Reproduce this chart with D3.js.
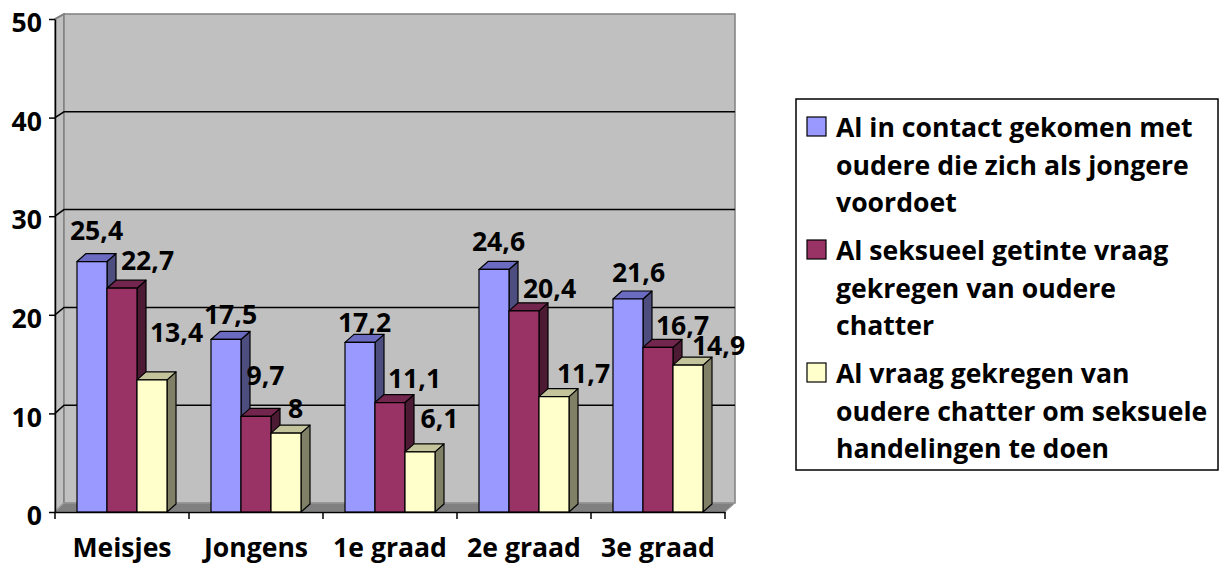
<!DOCTYPE html>
<html>
<head>
<meta charset="utf-8">
<script src="https://cdn.jsdelivr.net/npm/d3@7"></script>
<style>
  body { margin: 0; background: #fff; }
  svg { display: block; }
  text { font-family: "Open Sans", Lato, sans-serif; font-weight: 700; fill: #000; }
</style>
</head>
<body>
<div id="chart"></div>
<script>
// data
const categories = ['Meisjes', 'Jongens', '1e graad', '2e graad', '3e graad'];
const contactOudere = [25.4, 17.5, 17.2, 24.6, 21.6];
const seksueleVraag = [22.7, 9.7, 11.1, 20.4, 16.7];
const handelingenVraag = [13.4, 8, 6.1, 11.7, 14.9];
const yTicks = [0, 10, 20, 30, 40, 50];
const seriesLabels = [
    ['Al in contact gekomen met', 'oudere die zich als jongere', 'voordoet'],
    ['Al seksueel getinte vraag', 'gekregen van oudere', 'chatter'],
    ['Al vraag gekregen van', 'oudere chatter om seksuele', 'handelingen te doen'],
];
const series = [contactOudere, seksueleVraag, handelingenVraag];

// look
const colors = [
    { front: '#9999ff', top: '#6b6bc2', side: '#4d4d80' },
    { front: '#993366', top: '#73264d', side: '#4d1a33' },
    { front: '#ffffcc', top: '#c4c49c', side: '#808066' },
];
// hand nudges for the value labels, like the source chart has them
const labelNudge = [
    [[0, -22], [0, -15], [0, -10], [0, -18], [6, -17]],
    [[21, -18], [5, -31], [20, -15], [21, -13], [20, -12]],
    [[20, -38], [5, -15], [15, -24], [25, -14], [26, -10]],
];

const W = 1228, H = 567;
const wallDx = 9;          // depth of the walls
const barDx = 9, barDy = 8; // depth of the bars

const svg = d3.select('#chart').append('svg')
    .attr('width', W).attr('height', H);

// pick the font size so the first legend line is as wide as in the source
const probe = svg.append('text').attr('font-size', 100).text(seriesLabels[0][0]);
const fontSize = Math.round(100 * 357 / probe.node().getComputedTextLength() * 10) / 10;
probe.remove();

const x = d3.scaleBand().domain(categories).range([55, 725]);
const xs = d3.scaleBand().domain(d3.range(series.length)).range([22, 112]);
const yFront = d3.scaleLinear().domain([0, 50]).range([512, 19]);
const yBack = d3.scaleLinear().domain([0, 50]).range([503, 14]);

const x0 = x.range()[0], x1 = x.range()[1];

// walls
svg.append('path')
    .attr('d', `M${x0},${yFront(50)}L${x0 + wallDx},${yBack(50)}L${x0 + wallDx},${yBack(0)}L${x0},${yFront(0)}Z`)
    .attr('fill', '#c0c0c0').attr('stroke', '#808080').attr('stroke-width', 1.5);
svg.append('rect')
    .attr('x', x0 + wallDx).attr('y', yBack(50))
    .attr('width', x1 + 1 - x0).attr('height', yBack(0) - yBack(50))
    .attr('fill', '#c0c0c0').attr('stroke', '#808080').attr('stroke-width', 1.5);
svg.append('path')
    .attr('d', `M${x0},${yFront(0)}L${x0 + wallDx},${yBack(0)}L${x1 + wallDx + 1},${yBack(0)}L${x1},${yFront(0)}Z`)
    .attr('fill', '#808080').attr('stroke', '#a0a0a0').attr('stroke-width', 1);

// gridlines on the walls
const grid = svg.append('g').attr('stroke', '#000').attr('stroke-width', 1.5).attr('fill', 'none');
grid.selectAll('path').data(yTicks.filter(t => t > 0 && t < 50)).join('path')
    .attr('d', t => `M${x0},${yFront(t)}L${x0 + wallDx},${yBack(t)}H${x1 + wallDx + 1}`);
svg.append('path')
    .attr('d', `M${x0},${yFront(50)}L${x0 + wallDx},${yBack(50)}`)
    .attr('stroke', '#808080').attr('stroke-width', 1.5);

// bars
const bars = svg.append('g').attr('stroke', '#000').attr('stroke-width', 1.2).attr('stroke-linejoin', 'round');
categories.forEach((c, ci) => {
    series.forEach((vals, si) => {
        const bx = x(c) + xs(si), bw = xs.bandwidth();
        const yt = yFront(vals[ci]), yb = yFront(0);
        const col = colors[si];
        const g = bars.append('g');
        g.append('path')
            .attr('d', `M${bx + bw},${yt}L${bx + bw + barDx},${yt - barDy}L${bx + bw + barDx},${yb - barDy}L${bx + bw},${yb}Z`)
            .attr('fill', col.side);
        g.append('path')
            .attr('d', `M${bx},${yt}L${bx + barDx},${yt - barDy}L${bx + bw + barDx},${yt - barDy}L${bx + bw},${yt}Z`)
            .attr('fill', col.top);
        g.append('rect')
            .attr('x', bx).attr('y', yt).attr('width', bw).attr('height', yb - yt)
            .attr('fill', col.front);
    });
});

// y axis
const yAxis = d3.axisLeft(yFront).tickValues(yTicks).tickSize(6).tickSizeOuter(0).tickPadding(7);
const yG = svg.append('g').attr('transform', `translate(${x0},0)`).call(yAxis);
yG.select('.domain').attr('stroke', '#000').attr('stroke-width', 1.5);
yG.selectAll('.tick line').attr('stroke', '#000').attr('stroke-width', 1.5);
yG.selectAll('.tick text')
    .attr('font-family', null).attr('font-size', fontSize).attr('dy', '0.48em');

// x axis: labels under the band centres, ticks on the band edges
const xAxis = d3.axisBottom(x).tickSize(0).tickPadding(26).tickSizeOuter(0);
const xG = svg.append('g').attr('transform', `translate(0,${yFront(0)})`).call(xAxis);
xG.select('.domain').attr('stroke', '#000').attr('stroke-width', 1.5);
xG.selectAll('.tick text').attr('font-family', null).attr('font-size', fontSize);
svg.append('g').selectAll('line')
    .data(categories.map(c => x(c)).concat([x1]))
    .join('line')
    .attr('x1', d => d).attr('x2', d => d)
    .attr('y1', yFront(0)).attr('y2', yFront(0) + 7)
    .attr('stroke', '#000').attr('stroke-width', 1.5);

// value labels
const labels = svg.append('g').attr('font-size', fontSize).attr('text-anchor', 'middle');
series.forEach((vals, si) => {
    labels.selectAll(null).data(vals).join('text')
        .attr('x', (v, ci) => x(categories[ci]) + xs(si) + xs.bandwidth() / 2 + barDx / 2 + labelNudge[si][ci][0])
        .attr('y', (v, ci) => yFront(v) + labelNudge[si][ci][1])
        .text(v => String(v).replace('.', ','));
});

// legend
const legend = svg.append('g').attr('transform', 'translate(796,99)');
legend.append('rect')
    .attr('width', 422).attr('height', 371)
    .attr('fill', '#fff').attr('stroke', '#000').attr('stroke-width', 1.5);
const itemStep = 123, lineStep = 37.5;
const items = legend.selectAll('g.item').data(seriesLabels).join('g')
    .attr('class', 'item')
    .attr('transform', (d, i) => `translate(0,${i * itemStep})`);
items.append('rect')
    .attr('x', 11).attr('y', 18).attr('width', 19).attr('height', 19)
    .attr('fill', (d, i) => colors[i].front).attr('stroke', '#000').attr('stroke-width', 1.2);
items.selectAll('text').data(d => d).join('text')
    .attr('x', 40).attr('y', (d, j) => 38 + j * lineStep)
    .attr('font-size', fontSize)
    .text(d => d);
</script>
</body>
</html>
